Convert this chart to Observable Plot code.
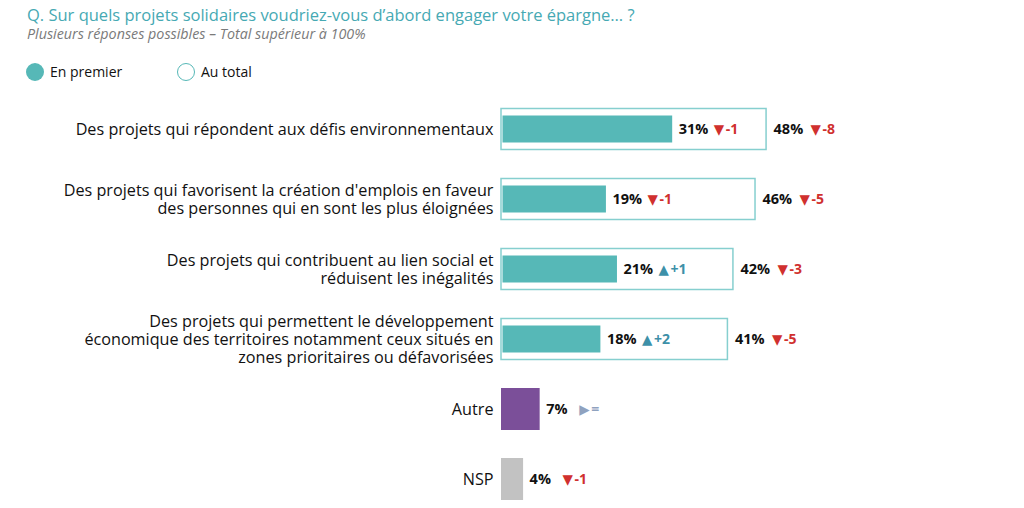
<!DOCTYPE html>
<html>
<head>
<meta charset="utf-8">
<script src="https://cdn.jsdelivr.net/npm/d3@7"></script>
<script src="https://cdn.jsdelivr.net/npm/@observablehq/plot@0.6"></script>
<style>
  body { margin: 0; background: #fff; font-family: "Open Sans", sans-serif; width: 1024px; height: 508px; overflow: hidden; position: relative; }
  #title { position: absolute; left: 27px; top: 4px; font-size: 16.5px; line-height: 22px; color: #46a9b3; white-space: nowrap; }
  #subtitle { position: absolute; left: 27px; top: 25px; font-size: 14.3px; line-height: 17px; font-style: italic; color: #7a7a7a; white-space: nowrap; }
  .leg { position: absolute; top: 62px; font-size: 14px; line-height: 20px; color: #111; display: flex; align-items: center; }
  .dot { width: 18px; height: 18px; border-radius: 50%; box-sizing: border-box; margin-right: 6px; }
  #chart { position: absolute; left: 0; top: 90px; }
</style>
</head>
<body>
<div id="title">Q. Sur quels projets solidaires voudriez-vous d’abord engager votre épargne… ?</div>
<div id="subtitle">Plusieurs réponses possibles – Total supérieur à 100%</div>
<div class="leg" style="left:26px"><div class="dot" style="background:#56b8b7"></div>En premier</div>
<div class="leg" style="left:177px"><div class="dot" style="border:1.5px solid #56b8b7"></div>Au total</div>
<div id="chart"></div>
<script>
const categories = [
  "Des projets qui répondent aux défis environnementaux",
  "Des projets qui favorisent la création d'emplois en faveur\ndes personnes qui en sont les plus éloignées",
  "Des projets qui contribuent au lien social et\nréduisent les inégalités",
  "Des projets qui permettent le développement\néconomique des territoires notamment ceux situés en\nzones prioritaires ou défavorisées",
  "Autre",
  "NSP"
];
const enPremier = [31, 19, 21, 18, 7, 4];
const auTotal = [48, 46, 42, 41, null, null];
const deltaPremier = ["-1", "-1", "+1", "+2", "=", "-1"];
const deltaTotal = ["-8", "-5", "-3", "-5", null, null];
const barColors = ["#56b8b7", "#56b8b7", "#56b8b7", "#56b8b7", "#7b4f99", "#c2c2c2"];

const rows = categories.map((c, i) => ({
  cat: c, premier: enPremier[i], total: auTotal[i],
  dP: deltaPremier[i], dT: deltaTotal[i], color: barColors[i]
}));
const withTotal = rows.filter(d => d.total != null);
const noTotal = rows.filter(d => d.total == null);
const big = rows.filter(d => d.premier >= 10);
const small = rows.filter(d => d.premier < 10);

const arrow = s => s === "=" ? "▶" : (s.startsWith("+") ? "▲" : "▼");
const num = s => s === "=" ? "=" : s;
const dcol = s => s === "=" ? "#8fa2bf" : (s.startsWith("+") ? "#3d90a8" : "#d0302e");

function deltaMarks(data, xKey, dKey, dx) {
  return [
    Plot.text(data, { x: xKey, y: "cat", text: d => arrow(d[dKey]), dx: dx, dy: 0, textAnchor: "start", fontSize: 13.5, fontFamily: "DejaVu Sans", fill: d => dcol(d[dKey]) }),
    Plot.text(data, { x: xKey, y: "cat", text: d => num(d[dKey]), dx: dx + 12, textAnchor: "start", fontWeight: "bold", fontSize: 14, fill: d => dcol(d[dKey]) })
  ];
}

const chart = Plot.plot({
  width: 1024,
  height: 418,
  marginLeft: 501,
  marginRight: 26,
  marginTop: 0,
  marginBottom: 0,
  x: { domain: [0, 90], axis: null },
  y: { domain: categories, range: [2, 425], padding: 0, label: null, axis: null },
  style: { fontFamily: "'Open Sans', sans-serif", color: "#111", background: "#fff" },
  marks: [
    Plot.axisY({ tickSize: 0, tickPadding: 8, fontSize: 16.2, lineHeight: 1.1, label: null, fill: "#111" }),
    Plot.barX(withTotal, { x: "total", y: "cat", fill: "#fff", stroke: "#86cfcf", strokeWidth: 1.5, insetTop: 14.5, insetBottom: 14.5 }),
    Plot.barX(withTotal, { x: "premier", y: "cat", fill: "color", insetTop: 21.5, insetBottom: 21.5, insetLeft: 1.5 }),
    Plot.barX(noTotal, { x: "premier", y: "cat", fill: "color", insetTop: 14, insetBottom: 14 }),
    Plot.text(rows, { x: "premier", y: "cat", text: d => d.premier + "%", dx: 6, textAnchor: "start", fontWeight: "bold", fontSize: 14.5, fill: "#111" }),
    ...deltaMarks(big, "premier", "dP", 41),
    ...deltaMarks(small, "premier", "dP", 39),
    Plot.text(withTotal, { x: "total", y: "cat", text: d => d.total + "%", dx: 7, textAnchor: "start", fontWeight: "bold", fontSize: 14.5, fill: "#111" }),
    ...deltaMarks(withTotal, "total", "dT", 44)
  ]
});
document.getElementById("chart").appendChild(chart);
</script>
</body>
</html>
